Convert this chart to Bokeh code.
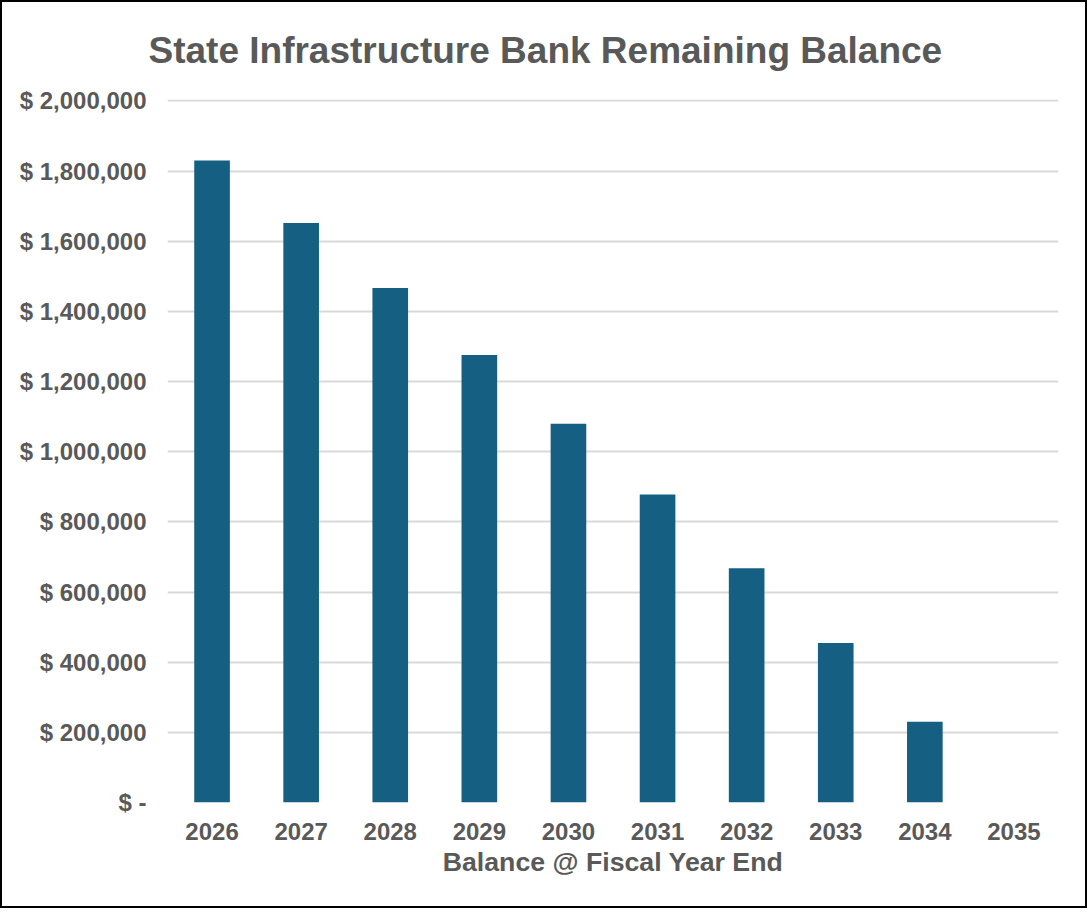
from bokeh.plotting import figure
from bokeh.models import ColumnDataSource, SingleIntervalTicker, CustomJSTickFormatter
from bokeh.embed import file_html
from bokeh.resources import INLINE

years = ["2026", "2027", "2028", "2029", "2030", "2031", "2032", "2033", "2034", "2035"]
balance = [1830000, 1652000, 1467000, 1276000, 1080000, 878000, 668000, 455000, 230000, 0]
title_text = "State Infrastructure Bank Remaining Balance"

src = ColumnDataSource(data=dict(years=years, balance=balance))

FONT = "Liberation Sans"
GRAY = "#595959"

p = figure(x_range=years, y_range=(0, 2004000), width=1087, height=908,
           output_backend="svg", toolbar_location=None, title=title_text,
           min_border_left=165, min_border_right=31, min_border_top=97, min_border_bottom=108)
p.styles = {"border": "2px solid black"}

p.vbar(x="years", top="balance", width=0.4, source=src, fill_color="#156082", line_color=None)

p.title.align = "left"
p.title.vertical_align = "top"
p.title.offset = -19
p.title.standoff = 53
p.title.text_font = FONT
p.title.text_font_size = "37px"
p.title.text_font_style = "bold"
p.title.text_color = GRAY

p.yaxis.ticker = SingleIntervalTicker(interval=200000)
p.yaxis.formatter = CustomJSTickFormatter(code="""
return tick == 0 ? "$ -" : "$ " + Math.round(tick).toLocaleString("en-US");
""")
for ax in (p.xaxis, p.yaxis):
    ax.axis_line_color = None
    ax.major_tick_line_color = None
    ax.minor_tick_line_color = None
    ax.major_label_text_font = FONT
    ax.major_label_text_font_size = "24px"
    ax.major_label_text_font_style = "bold"
    ax.major_label_text_color = GRAY
p.yaxis.major_label_standoff = 15
p.xaxis.major_label_standoff = 14

p.xaxis.axis_label = "Balance @ Fiscal Year End"
p.xaxis.axis_label_text_font = FONT
p.xaxis.axis_label_text_font_size = "26.7px"
p.xaxis.axis_label_text_font_style = "bold"
p.xaxis.axis_label_text_color = GRAY
p.xaxis.axis_label_standoff = 4

p.xgrid.grid_line_color = None
p.ygrid.grid_line_color = "#d9d9d9"
p.ygrid.grid_line_width = 2
p.outline_line_color = None

open("out.html", "w").write(file_html(p, INLINE))
